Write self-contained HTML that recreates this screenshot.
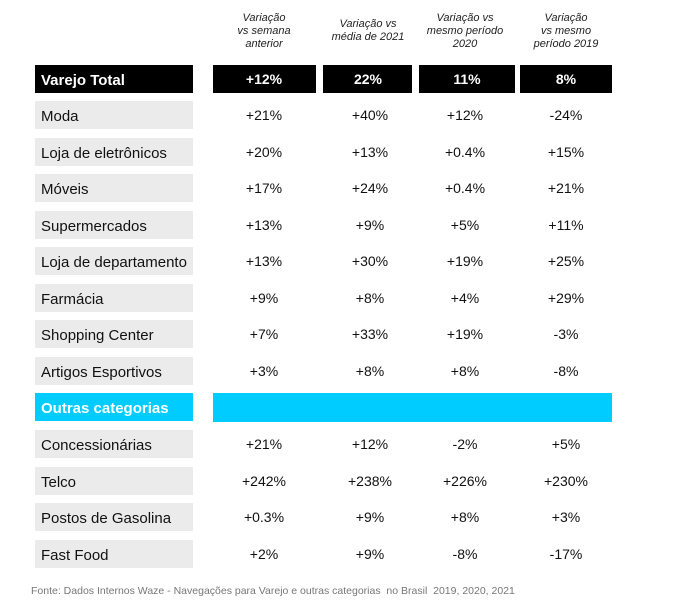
<!DOCTYPE html>
<html><head><meta charset="utf-8"><style>
body{margin:0;width:699px;height:606px;background:#fff;font-family:"Liberation Sans",sans-serif;position:relative;overflow:hidden}
.a{position:absolute}
.h{position:absolute;top:12px;font-size:11px;font-style:italic;color:#222;text-align:center;line-height:13px;width:110px}
.l{position:absolute;left:35px;width:152px;height:28px;background:#ebebeb;font-size:15px;line-height:31px;padding-left:6px;color:#111}
.v{position:absolute;width:100px;text-align:center;font-size:14px;line-height:29px;color:#111}
.bk{background:#000;color:#fff;font-weight:bold}
</style></head><body>
<div class="h" style="left:209px">Variação<br>vs semana<br>anterior</div>
<div class="h" style="left:313px;top:18px">Variação vs<br>média de 2021</div>
<div class="h" style="left:410px">Variação vs<br>mesmo período<br>2020</div>
<div class="h" style="left:511px">Variação<br>vs mesmo<br>período 2019</div>

<div class="l bk" style="top:65px">Varejo Total</div>
<div class="a bk" style="left:213px;top:65px;width:103px;height:28px"></div>
<div class="a bk" style="left:323px;top:65px;width:89px;height:28px"></div>
<div class="a bk" style="left:419px;top:65px;width:96px;height:28px"></div>
<div class="a bk" style="left:520px;top:65px;width:92px;height:28px"></div>
<div class="v" style="left:214px;top:65px;color:#fff;font-weight:bold">+12%</div>
<div class="v" style="left:318px;top:65px;color:#fff;font-weight:bold">22%</div>
<div class="v" style="left:417px;top:65px;color:#fff;font-weight:bold">11%</div>
<div class="v" style="left:516px;top:65px;color:#fff;font-weight:bold">8%</div>

<div class="l" style="top:393px;background:#00ccff;color:#fff;font-weight:bold">Outras categorias</div>
<div class="a" style="left:213px;top:393px;width:399px;height:29px;background:#00ccff"></div>

<div id="rows"></div>
<script>
var d=[["Moda","+21%","+40%","+12%","-24%",101],["Loja de eletrônicos","+20%","+13%","+0.4%","+15%",138],["Móveis","+17%","+24%","+0.4%","+21%",174],["Supermercados","+13%","+9%","+5%","+11%",211],["Loja de departamento","+13%","+30%","+19%","+25%",247],["Farmácia","+9%","+8%","+4%","+29%",284],["Shopping Center","+7%","+33%","+19%","-3%",320],["Artigos Esportivos","+3%","+8%","+8%","-8%",357],["Concessionárias","+21%","+12%","-2%","+5%",430],["Telco","+242%","+238%","+226%","+230%",467],["Postos de Gasolina","+0.3%","+9%","+8%","+3%",503],["Fast Food","+2%","+9%","-8%","-17%",540]];
var xs=[214,320,415,516],h="";
d.forEach(function(r){h+='<div class="l" style="top:'+r[5]+'px">'+r[0]+'</div>';for(var i=0;i<4;i++)h+='<div class="v" style="left:'+xs[i]+'px;top:'+r[5]+'px">'+r[i+1]+'</div>';});
document.getElementById("rows").innerHTML=h;
</script>
<div class="a" style="left:31px;top:585px;font-size:10.5px;color:#777">Fonte: Dados Internos Waze - Navegações para Varejo e outras categorias &nbsp;no Brasil &nbsp;2019, 2020, 2021</div>
</body></html>
